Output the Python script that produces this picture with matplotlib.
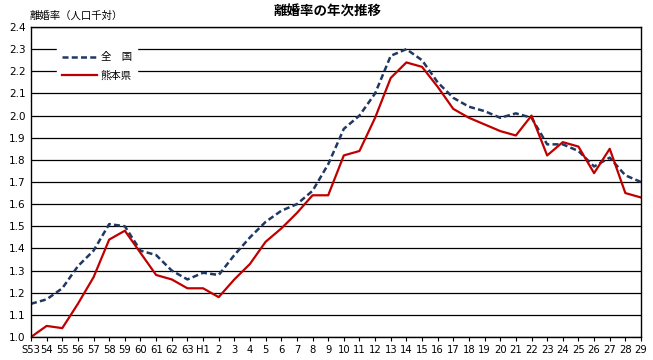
import matplotlib
matplotlib.use("Agg")
from matplotlib import pyplot as plt

plt.rcParams['font.family'] = ['DejaVu Sans', 'Noto Sans CJK JP']

years = ['S53', '54', '55', '56', '57', '58', '59', '60', '61', '62', '63', 'H1'] + \
        [str(n) for n in range(2, 30)]

zenkoku = [1.15, 1.17, 1.22, 1.32, 1.39, 1.51, 1.50, 1.39, 1.37, 1.30, 1.26, 1.29,
           1.28, 1.37, 1.45, 1.52, 1.57, 1.60, 1.66, 1.78, 1.94, 2.00, 2.10, 2.27,
           2.30, 2.25, 2.15, 2.08, 2.04, 2.02, 1.99, 2.01, 1.99, 1.87, 1.87, 1.84,
           1.77, 1.81, 1.73, 1.70]

kumamoto = [1.00, 1.05, 1.04, 1.15, 1.27, 1.44, 1.48, 1.38, 1.28, 1.26, 1.22, 1.22,
            1.18, 1.26, 1.33, 1.43, 1.49, 1.56, 1.64, 1.64, 1.82, 1.84, 1.99, 2.17,
            2.24, 2.22, 2.13, 2.03, 1.99, 1.96, 1.93, 1.91, 2.00, 1.82, 1.88, 1.86,
            1.74, 1.85, 1.65, 1.63]

yticks = [1.0 + 0.1 * i for i in range(15)]

fig = plt.figure(figsize=(6.53, 3.6), dpi=100)
ax = fig.add_axes([31/653, 23/360, 610/653, 310/360])

x = list(range(len(years)))
ax.plot(x, zenkoku, color='#1f3864', linestyle=(0, (2.4, 1.3)), linewidth=1.8, label='全　国')
ax.plot(x, kumamoto, color='#c00000', linewidth=1.6, label='熊本県')

ax.set_xlim(0, len(years) - 1)
ax.set_ylim(1.0, 2.4)
ax.set_yticks(yticks)
ax.set_yticklabels(['%.1f' % v for v in yticks], fontsize=7.5)
ax.set_xticks(x)
ax.set_xticklabels(years, fontsize=7.2)
ax.tick_params(axis='y', length=0, pad=4)
ax.tick_params(axis='x', length=3, direction='out', pad=3, color='black')
ax.grid(axis='y', color='black', linewidth=0.9)
for s in ax.spines.values():
    s.set_color('black')
    s.set_linewidth(1.0)

leg = ax.legend(loc='upper left', bbox_to_anchor=(26/610, 0.935), frameon=True,
                fancybox=False, edgecolor='white', framealpha=1,
                handlelength=3.3, handletextpad=0.4, borderpad=0.5,
                labelspacing=0.8, borderaxespad=0,
                prop={'family': ['Noto Sans CJK JP'], 'size': 7.5})

fig.text(328/653, 1 - 12/360, '離婚率の年次推移', ha='center', va='center',
         fontsize=9.7, fontweight='bold', family=['Noto Sans CJK JP'])
fig.text(30/653, 1 - 15.5/360, '離婚率（人口千対）', ha='left', va='center',
         fontsize=7.5, family=['Noto Sans CJK JP'])

fig.savefig('out.png', dpi=100)
